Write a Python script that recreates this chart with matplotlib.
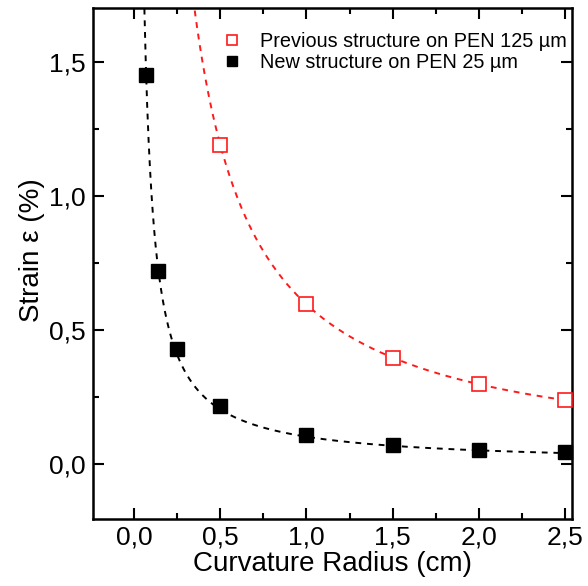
import numpy as np
import matplotlib.pyplot as plt
from matplotlib.ticker import MultipleLocator, FuncFormatter

plt.rcParams['font.family'] = ['Liberation Sans', 'DejaVu Sans']

# measured points
r_old = [0.5, 1.0, 1.5, 2.0, 2.5]
eps_old = [1.19, 0.595, 0.397, 0.298, 0.238]
r_new = [0.07, 0.14, 0.25, 0.5, 1.0, 1.5, 2.0, 2.5]
eps_new = [1.45, 0.72, 0.43, 0.215, 0.108, 0.072, 0.054, 0.043]


def fit_inv(r, e):
    # least squares for e = a / r
    u = 1.0 / np.array(r)
    return np.sum(u * np.array(e)) / np.sum(u * u)


fig = plt.figure(figsize=(5.88, 5.86), dpi=100)
ax = fig.add_axes([93 / 588, 1 - 519 / 586, 479 / 588, 511 / 586])

a_old = fit_inv(r_old, eps_old)
a_new = fit_inv(r_new, eps_new)
xs_old = np.linspace(0.3, 2.5, 300)
xs_new = np.linspace(0.06, 2.5, 600)
ax.plot(xs_old, a_old / xs_old, '--', color='#ff1a1a', lw=1.4, dashes=(3, 3))
ax.plot(xs_new, a_new / xs_new, '--', color='black', lw=1.4, dashes=(3, 3))

ax.plot(r_old, eps_old, 's', ms=10.5, mfc='white', mec='#ff1a1a', mew=1.2,
        label='Previous structure on PEN 125 \u00b5m', clip_on=False, zorder=3)
ax.plot(r_new, eps_new, 's', ms=10.5, color='black',
        label='New structure on PEN 25 \u00b5m', clip_on=False, zorder=3)

ax.set_xlim(-0.238, 2.54)
ax.set_ylim(-0.205, 1.70)

comma = FuncFormatter(lambda v, p: ('%.1f' % v).replace('.', ','))
ax.xaxis.set_major_locator(MultipleLocator(0.5))
ax.xaxis.set_minor_locator(MultipleLocator(0.25))
ax.yaxis.set_major_locator(MultipleLocator(0.5))
ax.yaxis.set_minor_locator(MultipleLocator(0.25))
ax.xaxis.set_major_formatter(comma)
ax.yaxis.set_major_formatter(comma)

ax.tick_params(which='both', direction='in', top=True, right=True, width=1.5,
               labelsize=19)
ax.tick_params(which='major', length=8, pad=5)
ax.tick_params(which='minor', length=4)
for s in ax.spines.values():
    s.set_linewidth(1.8)

ax.set_xlabel('Curvature Radius (cm)', fontsize=20, labelpad=1)
ax.set_ylabel('Strain \u03b5 (%)', fontsize=20)
ax.yaxis.set_label_coords(-0.101, 0.526)

ax.legend(loc='upper left', bbox_to_anchor=(0.269, 0.953), frameon=False,
          fontsize=14.3, handletextpad=0.9, borderaxespad=0, borderpad=0,
          labelspacing=0.12, handlelength=1.0, markerscale=0.65)

fig.savefig('out.png', dpi=100)
